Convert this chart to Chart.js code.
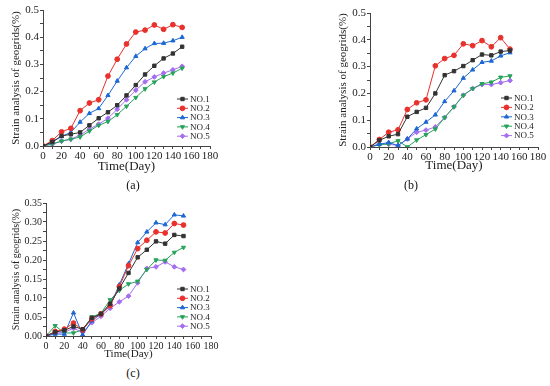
<!DOCTYPE html>
<html><head><meta charset="utf-8">
<script src="https://cdn.jsdelivr.net/npm/chart.js@4/dist/chart.umd.min.js"></script>
<style>
html,body{margin:0;padding:0;background:#fff;width:550px;height:386px;overflow:hidden;}
.c{position:absolute;}
.cap{position:absolute;font-family:"Liberation Serif",serif;font-size:12px;color:#111;transform:translate(-50%,-50%);}
</style></head><body>
<div class="c" style="left:0;top:0;width:230px;height:175px"><canvas id="ca"></canvas></div>
<div class="c" style="left:324px;top:0;width:226px;height:175px"><canvas id="cb"></canvas></div>
<div class="c" style="left:0;top:190px;width:230px;height:175px"><canvas id="cc"></canvas></div>
<div class="cap" style="left:133px;top:185px">(a)</div>
<div class="cap" style="left:411px;top:185px">(b)</div>
<div class="cap" style="left:133px;top:373px">(c)</div>
<script>
const days = [0,10,20,30,40,50,60,70,80,90,100,110,120,130,140,150];
const seriesNames = ["NO.1","NO.2","NO.3","NO.4","NO.5"];
const xTicks = [0,20,40,60,80,100,120,140,160,180];

// (a)
const a_no1 = [0,0.015,0.037,0.043,0.05,0.076,0.102,0.124,0.15,0.186,0.224,0.263,0.295,0.322,0.34,0.365];
const a_no2 = [0,0.02,0.052,0.065,0.13,0.158,0.17,0.257,0.319,0.375,0.419,0.426,0.445,0.429,0.446,0.436];
const a_no3 = [0,0.015,0.035,0.05,0.088,0.12,0.138,0.186,0.239,0.288,0.33,0.358,0.377,0.378,0.387,0.4];
const a_no4 = [0,0.008,0.018,0.025,0.033,0.055,0.076,0.09,0.115,0.146,0.178,0.21,0.235,0.255,0.268,0.286];
const a_no5 = [0,0.006,0.018,0.025,0.04,0.062,0.08,0.102,0.135,0.17,0.205,0.236,0.254,0.268,0.28,0.293];
// (b)
const b_no1 = [0,0.025,0.04,0.048,0.113,0.131,0.146,0.2,0.268,0.283,0.302,0.324,0.345,0.342,0.356,0.36];
const b_no2 = [0,0.028,0.055,0.064,0.14,0.165,0.176,0.303,0.33,0.342,0.385,0.378,0.397,0.374,0.408,0.365];
const b_no3 = [0,0.01,0.017,0.005,0.03,0.068,0.093,0.12,0.17,0.21,0.257,0.288,0.316,0.321,0.34,0.352];
const b_no4 = [0,0.008,0.012,0.023,0.0,0.026,0.046,0.067,0.11,0.15,0.193,0.218,0.236,0.242,0.26,0.265];
const b_no5 = [0,0.012,0.01,0.006,0.03,0.055,0.063,0.075,0.11,0.15,0.193,0.218,0.233,0.233,0.24,0.248];
// (c)
const c_no1 = [0,0.01,0.015,0.025,0.018,0.048,0.058,0.085,0.125,0.166,0.207,0.227,0.249,0.243,0.266,0.263];
const c_no2 = [0,0.012,0.018,0.034,0.016,0.045,0.058,0.08,0.13,0.185,0.23,0.252,0.274,0.271,0.296,0.292];
const c_no3 = [0,0.005,0.005,0.061,0.003,0.04,0.058,0.08,0.135,0.19,0.246,0.274,0.298,0.293,0.319,0.316];
const c_no4 = [0,0.027,0.008,0.008,0.016,0.05,0.06,0.095,0.12,0.137,0.144,0.175,0.2,0.199,0.22,0.233];
const c_no5 = [0,0.007,0.01,0.02,0.01,0.035,0.052,0.073,0.09,0.105,0.14,0.178,0.182,0.195,0.182,0.175];

const colors = ["#333333","#e8302c","#1c67d3","#27a35a","#a56ef0"];
const styles = ["rect","circle","triangle","triangle","rectRot"];
const rots = [0,0,0,180,0];
const FONT = "'Liberation Serif', 'Times New Roman', serif";

function makeDatasets(arrs){
  return arrs.map((arr,i)=>({
    label: seriesNames[i],
    data: arr.map((v,j)=>({x:days[j],y:v})),
    borderColor: colors[i], backgroundColor: colors[i],
    borderWidth: 1, pointStyle: styles[i], pointRotation: rots[i],
    pointRadius: 2.4, pointHoverRadius: 2.4, tension: 0
  }));
}

const legendPlugin = {
  id:'inLegend',
  afterDatasetsDraw(chart, args, opts){
    const ctx = chart.ctx;
    ctx.save();
    ctx.textBaseline = "middle";
    chart.data.datasets.forEach((ds,i)=>{
      const y = opts.y0 + i*opts.dy;
      ctx.strokeStyle = ds.borderColor; ctx.fillStyle = ds.backgroundColor; ctx.lineWidth = 1;
      ctx.beginPath(); ctx.moveTo(opts.x0, y); ctx.lineTo(opts.x0+opts.len, y); ctx.stroke();
      Chart.helpers.drawPoint(ctx, {pointStyle: ds.pointStyle, rotation: ds.pointRotation, radius: 2.4, borderWidth:1}, opts.x0+opts.len/2, y);
      ctx.font = opts.fontSize + "px " + FONT;
      ctx.fillStyle = "#222";
      ctx.fillText(ds.label, opts.x0+opts.len+2, y+0.5);
    });
    ctx.restore();
  }
};

function makeChart(id, arrs, cfg){
  const minorY = cfg.yStep;
  return new Chart(document.getElementById(id), {
    type:'line',
    data:{datasets: makeDatasets(arrs)},
    plugins:[legendPlugin],
    options:{
      responsive:true, maintainAspectRatio:false, animation:false,
      layout:{padding:{top:cfg.padTop, right:cfg.padRight, left:0, bottom:cfg.padBottom}},
      plugins:{legend:{display:false}, tooltip:{enabled:false},
        inLegend:{x0:cfg.lx, y0:cfg.ly, dy:cfg.ldy, len:11, fontSize:cfg.lfs}},
      scales:{
        x:{type:'linear', min:0, max:180,
          afterFit(s){ s.height = cfg.xh; },
          afterBuildTicks(s){ s.ticks = []; for(let v=0; v<=180; v+=10) s.ticks.push({value:v}); },
          grid:{display:true, drawOnChartArea:false, drawTicks:true, tickLength:3, color:'#444'},
          border:{display:true, color:'#444', width:1},
          ticks:{autoSkip:false, maxRotation:0, padding:1, color:'#222', font:{family:FONT, size:cfg.tfs, weight:'normal'},
            callback:(v)=> xTicks.includes(v) ? String(v) : ''},
          title:{display:true, text:'Time(Day)', color:'#222', font:{family:FONT, size:cfg.afs, weight:'normal'}, padding:{top:0,bottom:0}}
        },
        y:{type:'linear', min:0, max:cfg.ymax,
          afterFit(s){ s.width = cfg.yw; },
          afterBuildTicks(s){ s.ticks = []; const n = Math.round(cfg.ymax/minorY); for(let k=0;k<=n;k++) s.ticks.push({value: +(k*minorY).toFixed(4)}); },
          grid:{display:true, drawOnChartArea:false, drawTicks:true, tickLength:3, color:'#444'},
          border:{display:true, color:'#444', width:1},
          ticks:{autoSkip:false, padding:1, color:'#222', font:{family:FONT, size:cfg.tfs, weight:'normal'},
            callback:(v)=>{ const k = Math.round(v/minorY); return k%2===0 ? v.toFixed(cfg.dec) : ''; }},
          title:{display:true, text:'Strain analysis of geogrids(%)', color:'#222', font:{family:FONT, size:cfg.yafs, weight:'normal'}, padding:{top:cfg.ytp,bottom:0}}
        }
      }
    }
  });
}

makeChart('ca', [a_no1,a_no2,a_no3,a_no4,a_no5], {ymax:0.5, yStep:0.05, dec:1, padTop:10, padRight:20, padBottom:1, xh:28, yw:43,
  lx:177, ly:99, ldy:9.3, lfs:9, tfs:11, afs:13, yafs:11, ytp:10});
makeChart('cb', [b_no1,b_no2,b_no3,b_no4,b_no5], {ymax:0.5, yStep:0.05, dec:1, padTop:13, padRight:12, padBottom:2, xh:26, yw:46,
  lx:177, ly:98, ldy:9.4, lfs:9, tfs:11, afs:13, yafs:11, ytp:13});
makeChart('cc', [c_no1,c_no2,c_no3,c_no4,c_no5], {ymax:0.35, yStep:0.025, dec:2, padTop:13, padRight:19, padBottom:4, xh:25, yw:46,
  lx:177, ly:99, ldy:9.3, lfs:9, tfs:10, afs:11, yafs:10, ytp:10});
</script>
</body></html>
